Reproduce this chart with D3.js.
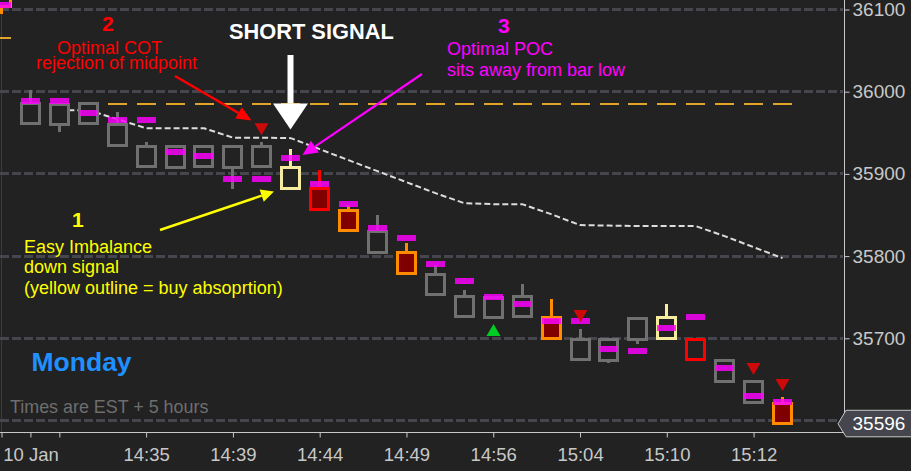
<!DOCTYPE html>
<html lang="en">
<head>
    <meta charset="UTF-8">
    <title>Short signal</title>
    <script src="https://d3js.org/d3.v7.min.js"></script>
    <style>
        html, body{
            margin: 0;
            padding: 0;
            background-color: #222222;
            overflow: hidden;
        }
        svg{
            display: block;
        }
        text{
            font-family: "Liberation Sans", Arial, sans-serif;
        }
    </style>
</head>
<body>
<div id="chart"></div>

<script>
    // bar -1 is the one cut off in the top left corner
    var barIndex = d3.range(-1, 27);
    var barType = ["orange", "plain", "plain", "plain", "plain", "plain", "plain", "plain", "plain", "plain", "absorb",
        "redFill", "orangeFill", "plain", "orangeFill", "plain", "plain", "plain", "plain", "orangeFill", "plain",
        "plain", "plain", "absorb", "red", "plain", "plain", "orangeFill"];
    var bodyTop = [36128, 35985.4, 35984.2, 35985.4, 35959.9, 35933.1, 35933.1, 35933.1, 35933.1, 35933.1, 35907.6,
        35882.1, 35855.3, 35829.8, 35804.3, 35777.5, 35750.8, 35749.5, 35750.8, 35725.2, 35698.5,
        35698.5, 35724, 35725.2, 35698.5, 35673, 35647.4, 35620.7];
    var bodyBottom = [36103.5, 35961.1, 35960.2, 35961.1, 35934.3, 35908.8, 35907.6, 35908.8, 35907.6, 35908.8, 35882.1,
        35856.5, 35831, 35804.3, 35778.7, 35753.2, 35726.4, 35725.2, 35726.4, 35699.7, 35674.2,
        35673, 35698.5, 35699.7, 35674.2, 35647.4, 35621.9, 35596.4];
    var wickHigh = [36128, 36003, 35984.2, 35985.4, 35976.3, 35939.8, 35933.1, 35933.1, 35933.1, 35939.8, 35931.3,
        35905.8, 35863.2, 35851, 35817, 35790.3, 35759.9, 35749.5, 35767.2, 35749, 35712.5,
        35698.5, 35724, 35742.9, 35698.5, 35673, 35647.4, 35628.6];
    var wickLow = [36095.5, 35961.1, 35951.1, 35961.1, 35934.3, 35908.8, 35907.6, 35908.8, 35882.7, 35908.8, 35882.1,
        35856.5, 35831, 35804.3, 35778.7, 35753.2, 35726.4, 35725.2, 35726.4, 35699.7, 35674.2,
        35670, 35694.2, 35699.7, 35674.2, 35647.4, 35621.9, 35596.4];
    var poc = [36105, 35988.4, 35988.4, 35973.9, 35965.4, 35965.4, 35926.4, 35921.6, 35893.6, 35893.6, 35919.2,
        35887.5, 35863.2, 35834, 35821.9, 35790.3, 35769.6, 35750.2, 35741.6, 35720.9, 35720.9,
        35686.9, 35684.5, 35712.5, 35725.8, 35663.8, 35629.8, 35622.5];

    var avgIndex = d3.range(1, 27);
    var avgValues = [35977.5, 35977.5, 35966.6, 35955.6, 35955.6, 35955.6, 35944.1, 35944.1, 35943.5, 35930.1, 35916.7,
        35903.3, 35890, 35876.6, 35864.4, 35863.2, 35863.2, 35851, 35837.7, 35837.1, 35836.5, 35836.5, 35836.5,
        35824.3, 35810.9, 35797.6];

    var levelValue = 35984.8;
    var oldLevelValue = 36065.3;

    var downIndex = [8, 19, 25, 26];
    var downValues = [35961.7, 35734.4, 35669.9, 35650.5];
    var upIndex = [16];
    var upValues = [35702.7];

    var yTicks = [36100, 36000, 35900, 35800, 35700, 35600];
    var xTickIndex = [-1, 0, 1, 4, 7, 10, 13, 16, 19, 22, 25];
    var xTickLabels = ["", "10 Jan", "", "14:35", "14:39", "14:44", "14:49", "14:56", "15:04", "15:10", "15:12"];
    var lastPrice = 35596;

    var width = 911;
    var height = 471;
    var axisX = 844.5;
    var axisY = 432.5;

    var colors = {
        plain: "#707070",
        absorb: "#f6eca0",
        red: "#ff0000",
        redFill: "#ff0000",
        orange: "#ff8c00",
        orangeFill: "#ff8c00"
    };
    var darkRed = "#800000";
    var gridColor = "#46464e";
    var axisColor = "#c8c8c8";

    var x = d3.scaleLinear().domain([-1, 26]).range([1.5, 782.5]);
    var y = d3.scaleLinear().domain([36100, 35600]).range([9.5, 420.5]);

    function px(i){ return Math.round(x(i) - 0.5) + 0.5; }
    function py(v){ return Math.floor(y(v)) + 0.5; }

    var svg = d3.select("#chart").append("svg")
        .attr("width", width)
        .attr("height", height)
        .style("background-color", "#222222");

    // day separator
    svg.append("line")
        .attr("x1", px(-1)).attr("x2", px(-1))
        .attr("y1", 0).attr("y2", axisY)
        .attr("stroke", "#3c3c3c").attr("stroke-width", 1);

    // grid
    svg.selectAll("line.grid").data(yTicks).enter().append("line")
        .attr("class", "grid")
        .attr("x1", 0).attr("x2", 843)
        .attr("y1", function(d){ return y(d); })
        .attr("y2", function(d){ return y(d); })
        .attr("stroke", gridColor)
        .attr("stroke-width", 3)
        .attr("stroke-dasharray", "9,3")
        .attr("shape-rendering", "crispEdges");

    // levels
    svg.append("line")
        .attr("x1", x(0) - 9.5).attr("x2", x(26) + 9.5)
        .attr("y1", y(levelValue)).attr("y2", y(levelValue))
        .attr("stroke", "#e0a428").attr("stroke-width", 2)
        .attr("stroke-dasharray", "19,9.93")
        .attr("shape-rendering", "crispEdges");
    svg.append("line")
        .attr("x1", 0).attr("x2", x(-1) + 9.5)
        .attr("y1", y(oldLevelValue)).attr("y2", y(oldLevelValue))
        .attr("stroke", "#e0a428").attr("stroke-width", 2)
        .attr("shape-rendering", "crispEdges");

    // average line
    var avgLine = d3.line()
        .x(function(d, i){ return x(avgIndex[i]); })
        .y(function(d){ return y(d); });
    svg.append("path")
        .attr("d", avgLine(avgValues))
        .attr("fill", "none")
        .attr("stroke", "#dcdcdc")
        .attr("stroke-width", 2)
        .attr("stroke-dasharray", "6,3");

    // bars
    var bars = svg.selectAll("g.bar").data(barIndex).enter().append("g")
        .attr("class", "bar")
        .attr("shape-rendering", "crispEdges");

    bars.append("line")
        .attr("x1", function(d){ return px(d); })
        .attr("x2", function(d){ return px(d); })
        .attr("y1", function(d, i){ return py(wickHigh[i]); })
        .attr("y2", function(d, i){ return py(wickLow[i]); })
        .attr("stroke", function(d, i){ return colors[barType[i]]; })
        .attr("stroke-width", 3);

    bars.append("rect")
        .attr("x", function(d){ return px(d) - 9; })
        .attr("width", 18)
        .attr("y", function(d, i){ return py(bodyTop[i]); })
        .attr("height", function(d, i){ return py(bodyBottom[i]) - py(bodyTop[i]); })
        .attr("fill", function(d, i){ return /Fill$/.test(barType[i]) ? darkRed : "#222222"; })
        .attr("stroke", function(d, i){ return colors[barType[i]]; })
        .attr("stroke-width", 3);

    bars.append("rect")
        .attr("x", function(d){ return px(d) - 9.5; })
        .attr("width", 19)
        .attr("y", function(d, i){ return y(poc[i]) - 3; })
        .attr("height", 6)
        .attr("fill", "#ff00ff")
        .attr("fill-opacity", 0.83);

    // signal triangles
    var triWidth = 14, triHeight = 12;
    svg.selectAll("path.down").data(downIndex).enter().append("path")
        .attr("class", "down")
        .attr("d", function(d, i){
            var top = y(downValues[i]), cx = px(d);
            return "M" + (cx - triWidth / 2) + "," + top + "L" + (cx + triWidth / 2) + "," + top + "L" + cx + "," + (top + triHeight) + "Z";
        })
        .attr("fill", "#cc0a0a");
    svg.selectAll("path.up").data(upIndex).enter().append("path")
        .attr("class", "up")
        .attr("d", function(d, i){
            var base = y(upValues[i]), cx = px(d);
            return "M" + (cx - triWidth / 2) + "," + base + "L" + (cx + triWidth / 2) + "," + base + "L" + cx + "," + (base - triHeight) + "Z";
        })
        .attr("fill", "#00cc22");

    // axes
    var yAxis = d3.axisRight(y).tickValues(yTicks).tickSize(5).tickPadding(3).tickSizeOuter(0)
        .tickFormat(d3.format("d"));
    var xAxis = d3.axisBottom(x).tickValues(xTickIndex).tickSize(5).tickPadding(10).tickSizeOuter(0)
        .tickFormat(function(d, i){ return xTickLabels[i]; });

    var gy = svg.append("g").attr("transform", "translate(" + axisX + ",0)").call(yAxis);
    gy.select(".domain").remove();
    gy.selectAll(".tick line").attr("stroke", axisColor);
    gy.selectAll(".tick text").attr("fill", axisColor).style("font-size", "19px");
    // the price tag covers the 35600 label
    gy.selectAll(".tick").filter(function(d){ return d === 35600; }).select("text").remove();

    var gx = svg.append("g").attr("transform", "translate(0," + axisY + ")").call(xAxis);
    gx.select(".domain").remove();
    gx.selectAll(".tick line").attr("stroke", axisColor);
    gx.selectAll(".tick text").attr("fill", axisColor).style("font-size", "18.5px");

    svg.append("line")
        .attr("x1", axisX).attr("x2", axisX).attr("y1", 0).attr("y2", axisY)
        .attr("stroke", axisColor).attr("stroke-width", 1);
    svg.append("line")
        .attr("x1", 0).attr("x2", axisX).attr("y1", axisY).attr("y2", axisY)
        .attr("stroke", axisColor).attr("stroke-width", 1);

    // last price tag
    var tagY = y(lastPrice);
    svg.append("path")
        .attr("d", "M838," + tagY + "L846," + (tagY - 13.5) + "L912," + (tagY - 13.5) + "L912," + (tagY + 13) + "L846," + (tagY + 13) + "Z")
        .attr("fill", "#45454d")
        .attr("stroke", axisColor)
        .attr("stroke-width", 1);
    svg.append("text")
        .attr("x", axisX + 8)
        .attr("y", tagY + 6.5)
        .attr("fill", "#ffffff")
        .style("font-size", "19px")
        .text(lastPrice);

    // annotations
    function label(txt, tx, ty, size, color, bold){
        svg.append("text")
            .attr("x", tx).attr("y", ty)
            .attr("fill", color)
            .style("font-size", size + "px")
            .style("font-weight", bold ? "bold" : "normal")
            .text(txt);
    }
    function arrow(x1, y1, x2, y2, color, w, headLen, headWidth){
        var a = Math.atan2(y2 - y1, x2 - x1);
        var bx = x2 - Math.cos(a) * headLen, by = y2 - Math.sin(a) * headLen;
        var nx = -Math.sin(a) * headWidth / 2, ny = Math.cos(a) * headWidth / 2;
        svg.append("line")
            .attr("x1", x1).attr("y1", y1).attr("x2", bx).attr("y2", by)
            .attr("stroke", color).attr("stroke-width", w);
        svg.append("path")
            .attr("d", "M" + x2 + "," + y2 + "L" + (bx + nx) + "," + (by + ny) + "L" + (bx - nx) + "," + (by - ny) + "Z")
            .attr("fill", color);
    }

    label("2", 102, 31, 21, "#ff0000", true);
    label("Optimal COT", 57, 53.5, 18, "#ff0000");
    label("rejection of midpoint", 36, 68.5, 18, "#ff0000");
    arrow(175, 76, 251.5, 120.5, "#ff0000", 2.5, 15, 13);

    label("SHORT SIGNAL", 229, 39, 21.8, "#ffffff", true);
    arrow(px(9), 55, px(9), 129.5, "#ffffff", 6, 26, 35);

    label("3", 498, 33, 21, "#ff00ff", true);
    label("Optimal POC", 447, 55, 18, "#ff00ff");
    label("sits away from bar low", 447, 76, 18, "#ff00ff");
    arrow(422, 74, 302.5, 155, "#ff00ff", 2.2, 15, 14);

    label("1", 72, 227, 21, "#ffff00", true);
    label("Easy Imbalance", 24, 252.5, 18, "#ffff00");
    label("down signal", 24, 273, 18, "#ffff00");
    label("(yellow outline = buy absoprtion)", 24, 294, 18, "#ffff00");
    arrow(160, 230, 274, 191.5, "#ffff00", 2.5, 13, 13);

    label("Monday", 31.5, 370.5, 26.5, "#1e90ff", true);
    label("Times are EST + 5 hours", 10, 413, 17.9, "#6e6e6e");
</script>
</body>
</html>
